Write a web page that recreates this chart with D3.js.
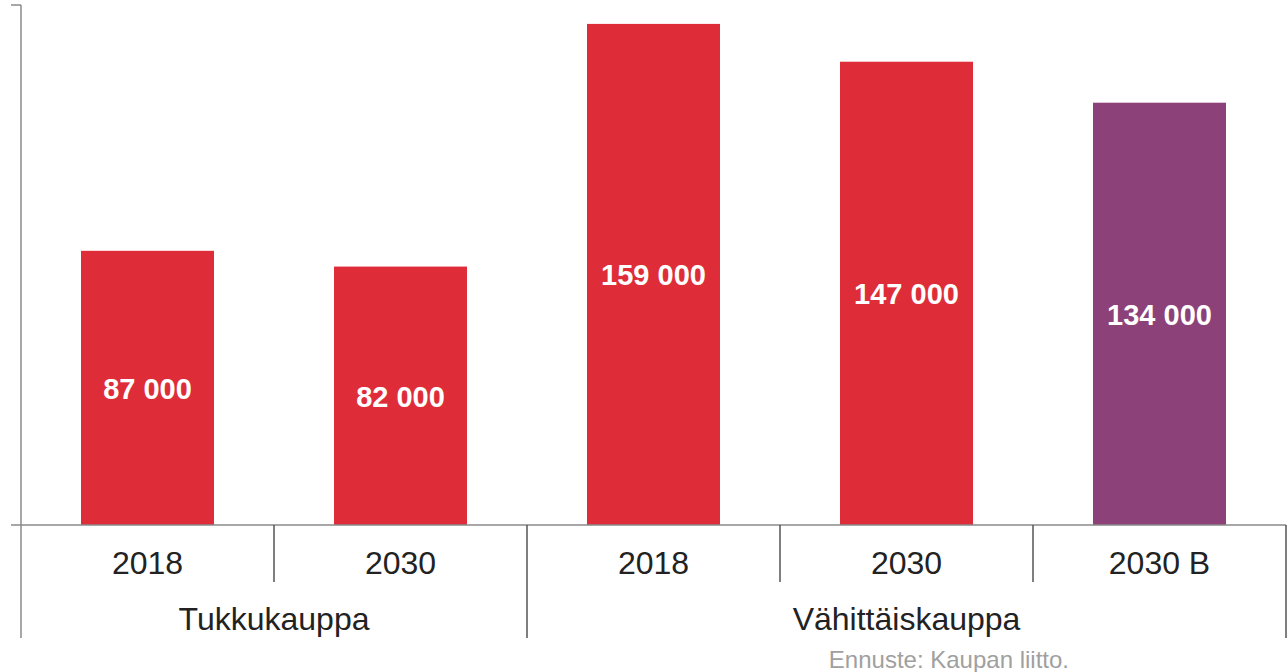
<!DOCTYPE html>
<html><head><meta charset="utf-8">
<script src="https://cdn.jsdelivr.net/npm/d3@7"></script>
<style>body{margin:0;background:#fff}svg{display:block}</style>
</head><body>
<svg id="c" width="1288" height="672"></svg>
<script>
const years = ["2018","2030","2018","2030","2030 B"];
const groups = ["Tukkukauppa","Vähittäiskauppa"];
const groupOf = [0,0,1,1,1];
const values = [87000,82000,159000,147000,134000];
const valueLabels = ["87 000","82 000","159 000","147 000","134 000"];
const barColors = ["#de2d38","#de2d38","#de2d38","#de2d38","#8c4179"];
const source = "Ennuste: Kaupan liitto.";

(function(){
const svg = d3.select("#c");
const pLeft = 21, pRight = 1286, pTop = 5, pBase = 525;
const font = "Liberation Sans, Arial, sans-serif";
const x = d3.scaleBand().domain(d3.range(values.length)).range([pLeft,pRight])
  .paddingInner(120/253).paddingOuter(60/253);
const y = d3.scaleLinear().domain([0,165000]).range([pBase,pTop]);
const step = x.step();
const catStart = i => pLeft + i*step;

svg.selectAll("rect.bar").data(values).join("rect")
  .attr("x",(d,i)=>x(i)).attr("width",x.bandwidth())
  .attr("y",d=>y(d)).attr("height",d=>y(0)-y(d))
  .attr("fill",(d,i)=>barColors[i]);

svg.selectAll("text.val").data(values).join("text")
  .attr("x",(d,i)=>x(i)+x.bandwidth()/2)
  .attr("y",d=>(y(d)+y(0))/2+1)
  .attr("text-anchor","middle").attr("dominant-baseline","central")
  .attr("fill","#fff").attr("font-family",font).attr("font-weight","bold")
  .attr("font-size",29).text((d,i)=>valueLabels[i]);

const ax = svg.append("g").attr("stroke","#8a8a8a").attr("stroke-width",1.5);
ax.append("line").attr("x1",pLeft).attr("x2",pLeft).attr("y1",pTop).attr("y2",638);
ax.append("line").attr("x1",11).attr("x2",pLeft).attr("y1",pTop).attr("y2",pTop);
ax.append("line").attr("x1",11).attr("x2",pRight).attr("y1",pBase).attr("y2",pBase);

const seps = svg.append("g").attr("stroke","#555").attr("stroke-width",1.5);
for (let i=1;i<=values.length;i++){
  const gsep = (i===values.length) || groupOf[i]!==groupOf[i-1];
  seps.append("line").attr("x1",catStart(i)).attr("x2",catStart(i))
    .attr("y1",pBase).attr("y2",gsep?638:582);
}

svg.selectAll("text.yr").data(years).join("text")
  .attr("x",(d,i)=>catStart(i)+step/2).attr("y",574)
  .attr("text-anchor","middle").attr("fill","#222")
  .attr("font-family",font).attr("font-size",32).text(d=>d);

svg.selectAll("text.grp").data(groups).join("text")
  .attr("x",(d,gi)=>{
    const idx = groupOf.map((g,i)=>g===gi?i:-1).filter(i=>i>=0);
    return (catStart(idx[0]) + catStart(idx[idx.length-1]+1))/2;
  }).attr("y",630)
  .attr("text-anchor","middle").attr("fill","#222")
  .attr("font-family",font).attr("font-size",32).text(d=>d);

svg.append("text").attr("x",1069).attr("y",668).attr("text-anchor","end")
  .attr("fill","#a0a0a0").attr("font-family",font).attr("font-size",24).text(source);
})();
</script>
</body></html>
